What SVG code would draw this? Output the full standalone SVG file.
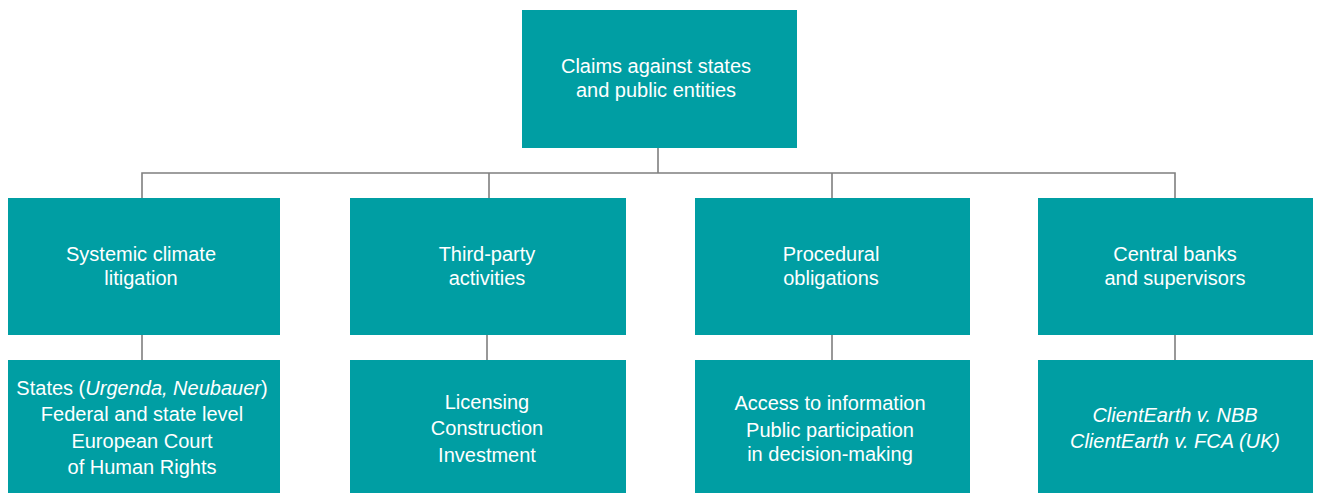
<svg xmlns="http://www.w3.org/2000/svg" width="1317" height="493" viewBox="0 0 1317 493">
<style>
.box{fill:#009ea3}
.t{font-family:"Liberation Sans",Arial,sans-serif;font-size:20px;fill:#ffffff;text-anchor:middle}
.i{font-style:italic}
.c{stroke:#7f7f7f;stroke-width:1.6;fill:none}
</style>
<rect width="1317" height="493" fill="#ffffff"/>
<g id="connectors">
<path class="c" d="M658,148 V173 M142,198 V173 H1175 V198 M489,173 V198 M832,173 V198"/>
<path class="c" d="M142,335 V360 M487,335 V360 M832,335 V360 M1175,335 V360"/>
</g>
<g id="root">
<rect class="box" x="522" y="10" width="275" height="138"/>
<text class="t" x="656" y="73">Claims against states</text>
<text class="t" x="656" y="97">and public entities</text>
</g>
<g id="systemic">
<rect class="box" x="8" y="198" width="272" height="137"/>
<text class="t" x="141" y="261">Systemic climate</text>
<text class="t" x="141" y="285">litigation</text>
</g>
<g id="thirdparty">
<rect class="box" x="350" y="198" width="276" height="137"/>
<text class="t" x="487" y="261">Third-party</text>
<text class="t" x="487" y="285">activities</text>
</g>
<g id="procedural">
<rect class="box" x="695" y="198" width="275" height="137"/>
<text class="t" x="831" y="261">Procedural</text>
<text class="t" x="831" y="285">obligations</text>
</g>
<g id="central">
<rect class="box" x="1038" y="198" width="275" height="137"/>
<text class="t" x="1175" y="261">Central banks</text>
<text class="t" x="1175" y="285">and supervisors</text>
</g>
<g id="systemic-detail">
<rect class="box" x="8" y="360" width="272" height="133"/>
<text class="t" x="142" y="395">States (<tspan class="i">Urgenda, Neubauer</tspan>)</text>
<text class="t" x="142" y="421">Federal and state level</text>
<text class="t" x="142" y="448">European Court</text>
<text class="t" x="142" y="474">of Human Rights</text>
</g>
<g id="thirdparty-detail">
<rect class="box" x="350" y="360" width="276" height="133"/>
<text class="t" x="487" y="409">Licensing</text>
<text class="t" x="487" y="435">Construction</text>
<text class="t" x="487" y="462">Investment</text>
</g>
<g id="procedural-detail">
<rect class="box" x="695" y="360" width="275" height="133"/>
<text class="t" x="830" y="410">Access to information</text>
<text class="t" x="830" y="437">Public participation</text>
<text class="t" x="830" y="461">in decision-making</text>
</g>
<g id="central-detail">
<rect class="box" x="1038" y="360" width="275" height="133"/>
<text class="t i" x="1175" y="422">ClientEarth v. NBB</text>
<text class="t i" x="1175" y="448">ClientEarth v. FCA (UK)</text>
</g>
</svg>
